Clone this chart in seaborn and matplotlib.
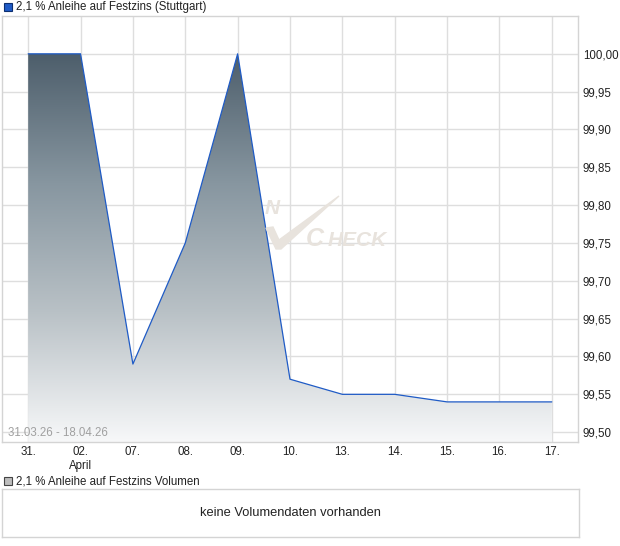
import numpy as np
import matplotlib
matplotlib.use("Agg")
import matplotlib.pyplot as plt
import seaborn as sns
from matplotlib.colors import LinearSegmentedColormap
from matplotlib.patches import Rectangle

# data
day_labels = ["31.", "02.\nApril", "07.", "08.", "09.", "10.", "13.", "14.", "15.", "16.", "17."]
prices = [100.00, 100.00, 99.59, 99.75, 100.00, 99.57, 99.55, 99.55, 99.54, 99.54, 99.54]
y_ticks = [99.50, 99.55, 99.60, 99.65, 99.70, 99.75, 99.80, 99.85, 99.90, 99.95, 100.00]
title = "2,1 % Anleihe auf Festzins (Stuttgart)"
vol_title = "2,1 % Anleihe auf Festzins Volumen"
vol_msg = "keine Volumendaten vorhanden"
date_range = "31.03.26 - 18.04.26"

W, H = 620, 546
sns.set_style("white")
plt.rcParams['font.family'] = ['Liberation Sans', 'DejaVu Sans']
plt.rcParams['font.size'] = 8

fig = plt.figure(figsize=(W / 100, H / 100), dpi=100)


def box(x0, y0, x1, y1):
    # pixel box (top-left origin) -> figure fraction rect
    return [x0 / W, 1 - y1 / H, (x1 - x0) / W, (y1 - y0) / H]


def px(x, y):
    return x / W, 1 - y / H


ax = fig.add_axes(box(2, 16, 578, 442))
x = np.arange(len(prices))
ylo, yhi = 99.487, 100.050

# gradient area under the line
cmap = LinearSegmentedColormap.from_list("area", ["#f7f8f9", "#b9c1c6", "#8796a0", "#4d5e6b"])
poly = ax.fill_between(x, prices, ylo, color="none", lw=0)
grad = ax.imshow(np.linspace(0, 1, 256).reshape(-1, 1), cmap=cmap, origin="lower",
                 extent=[x[0], x[-1], ylo, max(prices)], aspect="auto", zorder=1)
grad.set_clip_path(poly.get_paths()[0], transform=ax.transData)

sns.lineplot(x=x, y=prices, ax=ax, color="#1f5bc6", lw=0.9, zorder=3)

ax.set_xlim(-0.5, len(prices) - 0.5)
ax.set_ylim(ylo, yhi)
ax.set_xticks(x)
ax.set_xticklabels(day_labels, fontsize=8.3, color="#222222")
ax.yaxis.tick_right()
ax.set_yticks(y_ticks)
ax.set_yticklabels([f"{v:.2f}".replace(".", ",") for v in y_ticks], fontsize=8.3, color="#222222")
ax.tick_params(axis="both", length=0)
ax.tick_params(axis="x", pad=3)
ax.tick_params(axis="y", pad=3.5)
ax.grid(True, color="#dedede", lw=1.0, zorder=0)
ax.set_axisbelow(True)
for s in ax.spines.values():
    s.set_color("#d4d4d4")
    s.set_linewidth(1.0)
ax.set_xlabel("")
ax.set_ylabel("")

ax.text(6 / 576, 9 / 426, date_range, transform=ax.transAxes, fontsize=8.3,
        color="#a0a0a0", va="center", ha="left", zorder=4)

# faint watermark
wm = "#e8e3dd"
ax.text(263 / 576, (442 - 208) / 426, "N", transform=ax.transAxes, fontsize=15,
        color=wm, style="italic", fontweight="bold", va="center", zorder=2)
ax.text(304 / 576, (442 - 239) / 426, "C", transform=ax.transAxes, fontsize=18,
        color=wm, style="italic", fontweight="bold", va="center", zorder=2)
ax.text(326 / 576, (442 - 240) / 426, "HECK", transform=ax.transAxes, fontsize=15,
        color=wm, style="italic", fontweight="bold", va="center", zorder=2)
chk = plt.Polygon([px(266, 228), px(273, 227), px(279, 240), px(339, 196), px(281, 249), px(276, 249)],
                  closed=True, transform=fig.transFigure, color=wm, zorder=2)
fig.add_artist(chk)

# legend for the price panel
fig.add_artist(Rectangle(px(4, 11), 8 / W, 8 / H, transform=fig.transFigure,
                         facecolor="#1f5bc6", edgecolor="#0d2f70", lw=0.8))
fig.text(*px(16, 7), title, fontsize=8.3, color="#222222", va="center", ha="left")

# volume panel
fig.add_artist(Rectangle(px(4, 485), 8 / W, 8 / H, transform=fig.transFigure,
                         facecolor="#bdbdbd", edgecolor="#444444", lw=0.8))
fig.text(*px(16, 481), vol_title, fontsize=8.3, color="#222222", va="center", ha="left")

vax = fig.add_axes(box(2, 489, 579, 537))
vax.set_xticks([])
vax.set_yticks([])
for s in vax.spines.values():
    s.set_color("#d4d4d4")
    s.set_linewidth(1.0)
vax.text(0.5, 0.5, vol_msg, transform=vax.transAxes, ha="center", va="center",
         fontsize=9.3, color="#222222")

fig.savefig("out.png", dpi=100)
